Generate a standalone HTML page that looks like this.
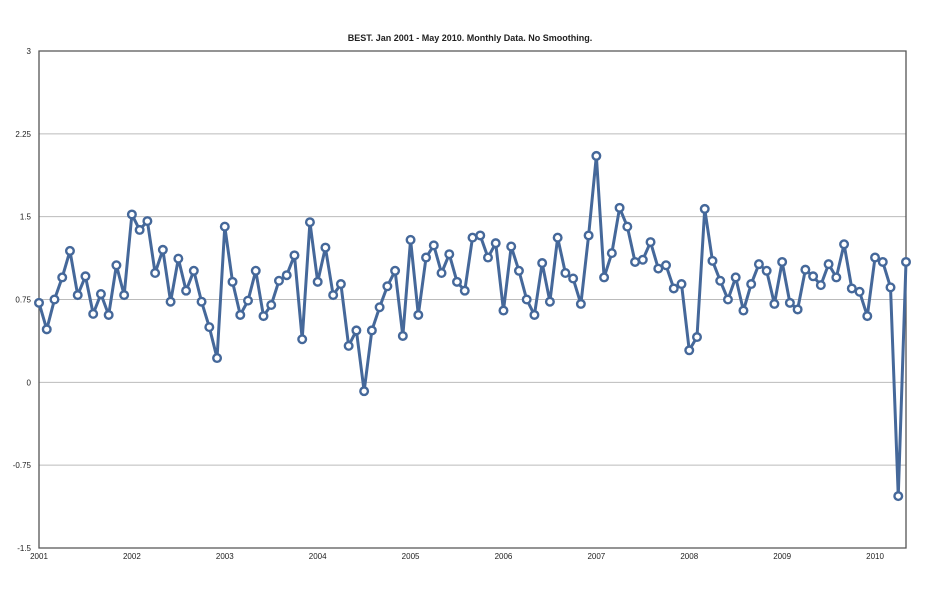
<!DOCTYPE html>
<html><head><meta charset="utf-8"><style>
body{margin:0;background:#fff;}
svg text{font-family:"Liberation Sans",sans-serif;fill:#222;}
</style></head><body>
<svg id="chart" width="939" height="600" xmlns="http://www.w3.org/2000/svg">
<text x="470" y="41" font-size="9" font-weight="bold" text-anchor="middle">BEST. Jan 2001 - May 2010. Monthly Data. No Smoothing.</text>
<g id="grid"></g><g id="axes"></g><g id="series"></g>
</svg>
<script>
const yTicks=[3,2.25,1.5,0.75,0,-0.75,-1.5];
const yTickLabels=["3","2.25","1.5","0.75","0","-0.75","-1.5"];
const xYears=[2001,2002,2003,2004,2005,2006,2007,2008,2009,2010];
const values=[
0.72,0.48,0.75,0.95,1.19,0.79,0.96,0.62,0.80,0.61,1.06,0.79,
1.52,1.38,1.46,0.99,1.20,0.73,1.12,0.83,1.01,0.73,0.50,0.22,
1.41,0.91,0.61,0.74,1.01,0.60,0.70,0.92,0.97,1.15,0.39,1.45,
0.91,1.22,0.79,0.89,0.33,0.47,-0.08,0.47,0.68,0.87,1.01,0.42,
1.29,0.61,1.13,1.24,0.99,1.16,0.91,0.83,1.31,1.33,1.13,1.26,
0.65,1.23,1.01,0.75,0.61,1.08,0.73,1.31,0.99,0.94,0.71,1.33,
2.05,0.95,1.17,1.58,1.41,1.09,1.11,1.27,1.03,1.06,0.85,0.89,
0.29,0.41,1.57,1.10,0.92,0.75,0.95,0.65,0.89,1.07,1.01,0.71,
1.09,0.72,0.66,1.02,0.96,0.88,1.07,0.95,1.25,0.85,0.82,0.60,
1.13,1.09,0.86,-1.03,1.09];
const NS="http://www.w3.org/2000/svg";
const L=39,R=906,T=51,B=548,yMin=-1.5,yMax=3;
const yS=v=>B-(v-yMin)/(yMax-yMin)*(B-T);
const xS=i=>L+i*(R-L)/112;
function mk(t,a,p){const e=document.createElementNS(NS,t);for(const k in a)e.setAttribute(k,a[k]);p.appendChild(e);return e;}
const grid=document.getElementById('grid'),axes=document.getElementById('axes'),ser=document.getElementById('series');
yTicks.forEach((v,i)=>{
 if(v>yMin&&v<yMax){const g=mk('line',{x1:L,x2:R,y1:yS(v),y2:yS(v),stroke:'#bbb','stroke-width':1},grid);
 
 }
 const t=mk('text',{x:31,y:yS(v)+3,'font-size':8,'text-anchor':'end'},axes);t.textContent=yTickLabels[i];
 
 
});
xYears.forEach((y,i)=>{
 const t=mk('text',{x:xS(i*12),y:559,'font-size':8,'text-anchor':'middle'},axes);t.textContent=y;
 
 
});
const fr=mk('path',{d:`M${L},${T}H${R}V${B}H${L}Z`,fill:'none',stroke:'#555','stroke-width':1.3},axes);


const pl=mk('polyline',{points:values.map((v,i)=>xS(i)+','+yS(v)).join(' '),fill:'none',stroke:'#45689a','stroke-width':3,'stroke-linejoin':'round'},ser);


values.forEach((v,i)=>{
 const c=mk('circle',{cx:xS(i),cy:yS(v),r:3.8,fill:'#fff',stroke:'#45689a','stroke-width':2.4},ser);
 
 
});
</script>
</body></html>
